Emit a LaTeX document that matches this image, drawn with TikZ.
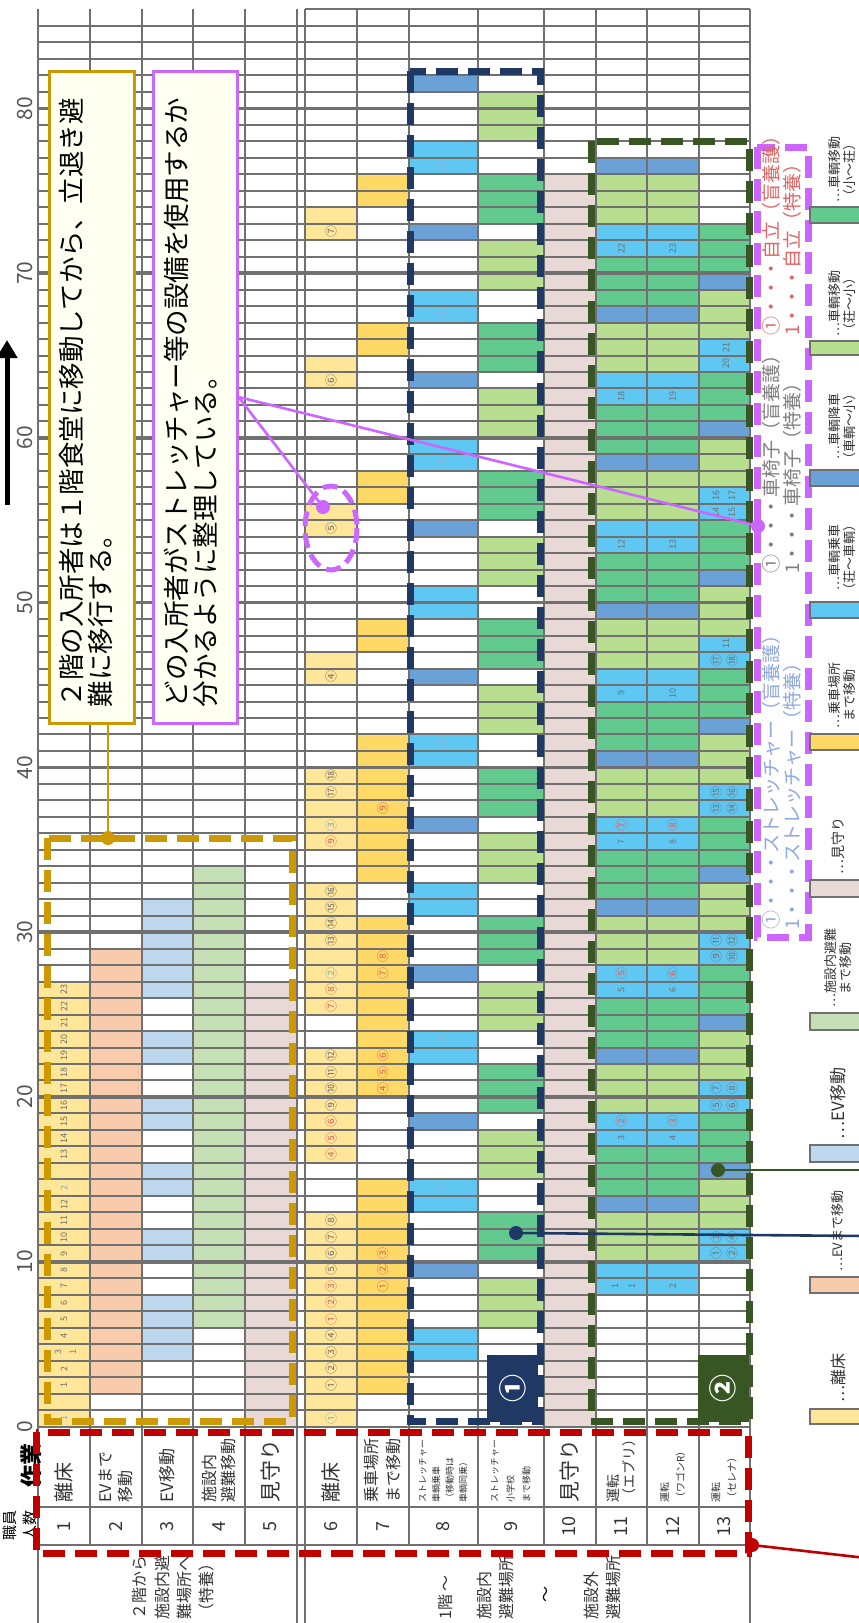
\documentclass[tikz,border=0pt]{standalone}
\usepackage{fontspec}
\setmainfont{Noto Sans CJK JP}
\usetikzlibrary{arrows.meta}
\definecolor{cRise}{HTML}{FFE699}
\definecolor{cEVto}{HTML}{F8CBAD}
\definecolor{cEV}{HTML}{BDD7EE}
\definecolor{cIn}{HTML}{C5E0B4}
\definecolor{cWatch}{HTML}{E8D8D6}
\definecolor{cBoard}{HTML}{FFD966}
\definecolor{cSky}{HTML}{5EC8F2}
\definecolor{cSteel}{HTML}{6AA2D8}
\definecolor{cLg}{HTML}{B8DE90}
\definecolor{cMg}{HTML}{62CA8F}
\definecolor{cGrid}{HTML}{707070}
\definecolor{cGold}{HTML}{CC9900}
\definecolor{cNavy}{HTML}{1F3864}
\definecolor{cDkGreen}{HTML}{375623}
\definecolor{cPurple}{HTML}{CC66FF}
\definecolor{cRed}{HTML}{C00000}
\definecolor{cIvory}{HTML}{FFFFF2}
\definecolor{cLabRed}{HTML}{E06060}
\definecolor{cLabGray}{HTML}{707070}
\definecolor{cLabBlue}{HTML}{7FAFC0}
\definecolor{cLabFaint}{HTML}{8DB8DA}
\definecolor{cText}{HTML}{333333}
\definecolor{cTick}{HTML}{555555}
\definecolor{cStr}{HTML}{8EA9DB}
\definecolor{cWc}{HTML}{7F7F7F}
\definecolor{cSelf}{HTML}{E06666}
\tikzset{
 gridthin/.style={draw=cGrid, line width=1pt},
 gridthick/.style={draw=cGrid, line width=1.8pt},
 dashbox/.style={line width=3.5pt, dash pattern=on 11pt off 5pt},
 lab/.style={rotate=90, inner sep=0pt, font=\fontsize{6}{6}\selectfont},
 labs/.style={rotate=90, inner sep=0pt, font=\fontsize{4.5}{4.5}\selectfont},
 tick/.style={rotate=90, inner sep=0pt, text=cTick, font=\fontsize{10.5}{11}\selectfont},
 hd/.style={rotate=90, anchor=west, align=left, inner sep=0pt, text=cText},
 num/.style={rotate=90, inner sep=0pt, text=cText, font=\fontsize{9}{9}\selectfont},
 callout/.style={rotate=90, fill=cIvory, line width=1.5pt, inner sep=0pt},
 calltext/.style={rotate=90, align=left, text width=310pt, inner sep=0pt, font=\fontsize{13.25}{14.5}\selectfont},
 dot/.style={circle, inner sep=0pt, minimum size=7pt},
 legt/.style={rotate=90, anchor=west, align=center, inner sep=0pt, text=cText},
 pl/.style={rotate=90, anchor=west, inner sep=0pt, font=\fontsize{9.5}{10}\selectfont},
 tagbox/.style={rotate=90, inner sep=0pt, text=white, minimum width=33.5pt, minimum height=25.5pt, font=\bfseries\fontsize{14}{14}\selectfont},
}
\begin{document}
\begin{tikzpicture}[x=0.5pt,y=-0.5pt]
\useasboundingbox (0,0) rectangle (858,1623);
\fill[white] (0,0) rectangle (858,1623);

% ================= time chart =================
\begin{scope}[shift={(0,1426.5)}, y=8.2385pt]
% row 1-5
\fill[cRise] (38,0) rectangle (90,27);
\fill[cEVto] (90,2) rectangle (141.5,29);
\foreach \t in {4,5,6,7,10,11,14,15,18,19,22,23,26,27,28,29,30,31}
  \fill[cEV] (141.5,\t) rectangle (193,\t+1);
\fill[cIn] (193,6) rectangle (244.5,34);
\fill[cWatch] (244.5,0) rectangle (296.5,27);
% row 6
\foreach \a/\b in {0/13,16/23,25/33,35/40,45/47,54/56,63/65,72/74}
  \fill[cRise] (305,\a) rectangle (357,\b);
% row 7
\foreach \a/\b in {2/15,20/31,33/42,47/49,56/58,65/67,74/76}
  \fill[cBoard] (357,\a) rectangle (408.5,\b);
% row 8
\foreach \k in {0,...,8} {
  \fill[cSky] (408.5,4+9*\k) rectangle (478,6+9*\k);
  \fill[cSteel] (408.5,9+9*\k) rectangle (478,10+9*\k);}
% row 9
\foreach \k in {0,...,8} \fill[cLg] (478,6+9*\k) rectangle (543.5,9+9*\k);
\foreach \k in {0,...,7} \fill[cMg] (478,10+9*\k) rectangle (543.5,13+9*\k);
% row 10
\fill[cWatch] (543.5,0) rectangle (595.5,76);
% rows 11-12
\foreach \a in {8,17,...,62} {
  \fill[cSky] (595.5,\a) rectangle (698.5,\a+2);
  \fill[cLg] (595.5,\a+2) rectangle (698.5,\a+5);
  \fill[cSteel] (595.5,\a+5) rectangle (698.5,\a+6);
  \fill[cMg] (595.5,\a+6) rectangle (698.5,\a+9);}
\fill[cSky] (595.5,71) rectangle (698.5,73);
\fill[cLg] (595.5,73) rectangle (698.5,76);
\fill[cSteel] (595.5,76) rectangle (698.5,77);
% row 13
\foreach \a in {10,19,...,64} {
  \fill[cSky] (698.5,\a) rectangle (749.5,\a+2);
  \fill[cLg] (698.5,\a+2) rectangle (749.5,\a+5);
  \fill[cSteel] (698.5,\a+5) rectangle (749.5,\a+6);
  \fill[cMg] (698.5,\a+6) rectangle (749.5,\a+9);}

% grid
\foreach \t in {0,...,85} \draw[gridthin] (38,\t) -- (749.5,\t);
\foreach \t in {10,20,...,80} \draw[gridthick] (38,\t) -- (749.5,\t);
\draw[gridthin] (305,86) -- (749.5,86);
\foreach \x in {38,90,141.5,193,244.5,296.5,305,357,408.5,478,543.5,595.5,647,698.5,749.5}
  \draw[gridthin] (\x,0) -- (\x,86);

% tick labels
\foreach \t in {0,10,...,80} \node[tick] (tk\t) at (25,\t) {\t};

% row 1 labels
\foreach \t in {2,3,5,6,7,8,9,10,11,12,13} {
  \pgfmathtruncatemacro\rn{\t-1}
  \node[labs,text=cLabGray] (ra\t) at (64,\t+0.5) {\rn};}
\foreach \t in {16,...,26} {
  \pgfmathtruncatemacro\rn{\t-3}
  \node[labs,text=cLabGray] (rb\t) at (64,\t+0.5) {\rn};}
\node[labs,text=cLabGray] (rc1) at (58,4.5) {3};
\node[labs,text=cLabRed] (rc2) at (73,4.5) {1};
\node[labs,text=cLabBlue] (rc3) at (64,14.5) {2};
\node[labs,text=cLabBlue] (rc4) at (64,0.5) {1};

% row 6 labels
\foreach \t/\s/\c in {0/①/cLabBlue,2/①/cLabGray,3/②/cLabGray,4/③/cLabGray,5/④/cLabGray,
  6/①/cLabRed,7/②/cLabRed,8/③/cLabRed,9/⑤/cLabGray,10/⑥/cLabGray,11/⑦/cLabGray,12/⑧/cLabGray,
  16/④/cLabRed,17/⑤/cLabRed,18/⑥/cLabRed,19/⑨/cLabGray,20/⑩/cLabGray,21/⑪/cLabGray,22/⑫/cLabGray,
  25/⑦/cLabRed,26/⑧/cLabRed,27/②/cLabBlue,29/⑬/cLabGray,30/⑭/cLabGray,31/⑮/cLabGray,32/⑯/cLabGray,
  35/⑨/cLabRed,36/③/cLabBlue,38/⑰/cLabGray,39/⑱/cLabGray,45/④/cLabGray,54/⑤/cLabGray,63/⑥/cLabGray,72/⑦/cLabGray}
  \node[lab,text=\c] (s6l\t) at (331,\t+0.5) {\s};
% row 7 labels
\foreach \t/\s in {8/①,9/②,10/③,20/④,21/⑤,22/⑥,27/⑦,28/⑧,37/⑨}
  \node[lab,text=cLabRed] (s7l\t) at (382.75,\t+0.5) {\s};
% row 8 labels
\foreach \t/\s in {14/①,23/④,41/⑨,58/⑤,67/⑥,76/⑦}
  \node[lab,text=cLabFaint] (s8l\t) at (443.25,\t+0.5) {\s};
% row 11 labels
\node[labs,text=cLabGray] (s11a) at (615,8.5) {1};
\node[labs,text=cLabGray] (s11b) at (632,8.5) {1};
\foreach \t/\s in {17/3,26/5,35/7,44/9,53/12,62/18,71/22}
  \node[labs,text=cLabGray] (s11l\t) at (621.25,\t+0.5) {\s};
\foreach \t/\s in {18/②,27/⑤,36/⑦}
  \node[lab,text=cLabRed] (s11r\t) at (621.25,\t+0.5) {\s};
% row 12 labels
\foreach \t/\s in {8/2,17/4,26/6,35/8,44/10,53/13,62/19,71/23}
  \node[labs,text=cLabGray] (s12l\t) at (672.75,\t+0.5) {\s};
\foreach \t/\s in {18/③,27/⑥,36/⑧}
  \node[lab,text=cLabRed] (s12r\t) at (672.75,\t+0.5) {\s};
% row 13 labels
\foreach \t/\s/\u in {10/①/②,11/③/④,19/⑤/⑥,20/⑦/⑧,28/⑨/⑩,29/⑪/⑫,37/⑬/⑭,38/⑮/⑯,46/⑰/⑱} {
  \node[lab,text=cLabGray] (s13a\t) at (716,\t+0.5) {\s};
  \node[lab,text=cLabGray] (s13b\t) at (732,\t+0.5) {\u};}
\foreach \t/\s/\u in {55/14/15,56/16/17} {
  \node[labs,text=cLabGray] (s13c\t) at (716,\t+0.5) {\s};
  \node[labs,text=cLabGray] (s13d\t) at (732,\t+0.5) {\u};}
\foreach \t/\s in {47/11,64/20,65/21}
  \node[labs,text=cLabGray] (s13e\t) at (726,\t+0.5) {\s};
\end{scope}

% ================= header table =================
\draw[gridthin] (38,1506.7) -- (749.5,1506.7);
\draw[gridthin] (38,1545) -- (749.5,1545);
\foreach \x in {90,141.5,193,244.5,357,408.5,478,543.5,595.5,647,698.5}
  \draw[gridthin] (\x,1426.5) -- (\x,1545);
\foreach \x in {38,296.5,305,749.5}
  \draw[gridthin] (\x,1426.5) -- (\x,1623);

\node[hd, font=\fontsize{10}{12}\selectfont] (h1) at (64,1503) {離床};
\node[hd, font=\fontsize{8}{10}\selectfont] (h2) at (115.75,1503) {EVまで\\移動};
\node[hd, font=\fontsize{8.5}{10}\selectfont] (h3) at (167.25,1503) {EV移動};
\node[hd, font=\fontsize{8}{9.5}\selectfont] (h4) at (218.75,1503) {施設内\\避難移動};
\node[hd, font=\fontsize{10.5}{12}\selectfont] (h5) at (270.5,1503) {見守り};
\node[hd, font=\fontsize{10}{12}\selectfont] (h6) at (331,1503) {離床};
\node[hd, font=\fontsize{8}{11}\selectfont] (h7) at (382.75,1503) {乗車場所\\まで移動};
\node[hd, font=\fontsize{4.5}{6.8}\selectfont] (h8) at (443.25,1503) {ストレッチャー\\車輌乗車\\（移動時は\\車輌同乗）};
\node[hd, font=\fontsize{4.5}{8}\selectfont] (h9) at (510.75,1503) {ストレッチャー\\小学校\\まで移動};
\node[hd, font=\fontsize{10.5}{12}\selectfont] (h10) at (569.5,1503) {見守り};
\node[hd, font=\fontsize{7}{8}\selectfont] (h11) at (621.25,1503) {運転\\（エブリ）};
\node[hd, font=\fontsize{5}{8}\selectfont] (h12) at (672.75,1503) {運転\\（ワゴンR）};
\node[hd, font=\fontsize{5}{8}\selectfont] (h13) at (724,1503) {運転\\（セレナ）};

\foreach \x/\n in {64/1,115.75/2,167.25/3,218.75/4,270.5/5,331/6,382.75/7,443.25/8,510.75/9,569.5/10,621.25/11,672.75/12,724/13}
  \node[num] (n\n) at (\x,1526) {\n};

\node[rotate=90, inner sep=0pt, font=\bfseries\fontsize{11}{11}\selectfont] (sagyo) at (31,1465) {作業};
\node[rotate=90, inner sep=0pt, align=center, font=\fontsize{7.5}{10}\selectfont] (shokuin) at (20,1525) {職員\\人数};

\node[hd, font=\fontsize{8}{11.2}\selectfont] (g1) at (173.5,1620) {２階から\\施設内避\\難場所へ\\（特養）};
\node[hd, font=\fontsize{8}{11}\selectfont] (g2) at (446,1620) {1階 〜};
\node[hd, font=\fontsize{8}{11}\selectfont] (g3) at (495,1620) {施設内\\避難場所};
\node[rotate=90, inner sep=0pt, font=\fontsize{8}{11}\selectfont] (g4) at (547,1594) {〜};
\node[hd, font=\fontsize{8}{11}\selectfont] (g5) at (602,1620) {施設外\\避難場所};

% ================= dashed frames =================
\draw[cGold, dashbox] (47,838) rectangle (292,1421);
\draw[cNavy, dashbox] (410,71) rectangle (540,1421);
\draw[cDkGreen, dashbox] (591,141) rectangle (749,1421);
\draw[cRed, dashbox] (36,1432) rectangle (748,1553);
\draw[cPurple, dashbox] (757,147) rectangle (808,937);
\draw[cPurple, line width=2.5pt, dash pattern=on 7.5pt off 3.5pt] (331,528) ellipse [x radius=26, y radius=42];

% tags
\node[tagbox, fill=cNavy] (tag1) at (512.5,1388.5) {①};
\node[tagbox, fill=cDkGreen] (tag2) at (723,1388.5) {②};

% ================= callouts =================
\node[callout, draw=cGold, minimum width=326pt, minimum height=42.5pt] (boxA) at (91.5,397) {};
\node[calltext] (boxAt) at (85.5,397) {２階の入所者は１階食堂に移動してから、立退き避\\難に移行する。};
\node[callout, draw=cPurple, minimum width=326pt, minimum height=42pt] (boxB) at (195,397) {};
\node[calltext] (boxBt) at (190.5,397) {どの入所者がストレッチャー等の設備を使用するか\\分かるように整理している。};

% dots and connectors
\node[dot, fill=cGold] (dotG) at (108,838) {};
\draw[cGold, line width=1.3pt] (dotG.center) -- (dotG.center |- boxA.west);
\node[dot, fill=cPurple] (dotP1) at (323,507) {};
\node[dot, fill=cPurple] (dotP2) at (758,526) {};
\draw[cPurple, line width=1.3pt] (boxB.south) -- (dotP1.center);
\draw[cPurple, line width=1.3pt] (boxB.south) -- (dotP2.center);
\node[dot, fill=cNavy] (dotN) at (516,1233) {};
\coordinate (endN) at (866,1236);
\draw[cNavy, line width=1.3pt] (dotN.center) -- (endN);
\node[dot, fill=cDkGreen] (dotD) at (718,1170) {};
\coordinate (endD) at (866,1170);
\draw[cDkGreen, line width=1.3pt] (dotD.center) -- (endD);
\node[dot, fill=cRed] (dotR) at (752,1545) {};
\coordinate (endR) at (866,1558);
\draw[cRed, line width=1.3pt] (dotR.center) -- (endR);

% time arrow
\coordinate (arrA) at (7,505);
\coordinate (arrB) at (7,340);
\draw[line width=2.5pt, -{Triangle[length=9pt,width=10pt]}] (arrA) -- (arrB);

% ================= purple legend box text =================
\node[pl, text=cStr] (pl1) at (771,930) {①・・・ストレッチャー（盲養護）};
\node[pl, text=cStr] (pl2) at (792,930) {1・・・ストレッチャー（特養）};
\node[pl, text=cWc] (pl3) at (771,574) {①・・・車椅子（盲養護）};
\node[pl, text=cWc] (pl4) at (792,574) {1・・・車椅子（特養）};
\node[pl, text=cSelf] (pl5) at (771,336) {①・・・自立（盲養護）};
\node[pl, text=cSelf] (pl6) at (792,336) {1・・・自立（特養）};

% ================= legend =================
\foreach \ya/\yb/\c in {1409/1424/cRise,1277/1293/cEVto,1145/1162/cEV,1013/1030/cIn,880/897/cWatch,734/750/cBoard,602/618/cSky,470/486/cSteel,341/355/cLg,207/223/cMg}
  \draw[fill=\c, draw=cGrid, line width=1pt] (810,\ya) rectangle (866,\yb);
\node[legt, font=\fontsize{8}{9}\selectfont] (lg1) at (838,1403) {…離床};
\node[legt, font=\fontsize{6.5}{7}\selectfont] (lg2) at (838,1272) {…EVまで移動};
\node[legt, font=\fontsize{8.5}{9}\selectfont] (lg3) at (838,1140) {…EV移動};
\node[legt, font=\fontsize{6.5}{7.5}\selectfont] (lg4) at (838,1008) {…施設内避難\\まで移動};
\node[legt, font=\fontsize{7}{8}\selectfont] (lg5) at (838,875) {…見守り};
\node[legt, font=\fontsize{6.5}{7.5}\selectfont] (lg6) at (842,729) {…乗車場所\\まで移動};
\node[legt, font=\fontsize{6.5}{7.5}\selectfont] (lg7) at (842,597) {…車輌乗車\\（荘〜車輌）};
\node[legt, font=\fontsize{6.5}{7.5}\selectfont] (lg8) at (842,466) {…車輌降車\\（車輌〜小）};
\node[legt, font=\fontsize{6.5}{7.5}\selectfont] (lg9) at (842,337) {…車輌移動\\（荘〜小）};
\node[legt, font=\fontsize{6.5}{7.5}\selectfont] (lg10) at (842,203) {…車輌移動\\（小〜荘）};
\end{tikzpicture}
\end{document}
